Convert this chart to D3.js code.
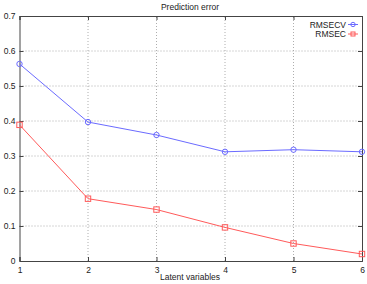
<!DOCTYPE html>
<html>
<head>
<meta charset="utf-8">
<script src="https://cdn.jsdelivr.net/npm/d3@7"></script>
<style>
  body { margin: 0; background: #fff; }
  svg { display: block; font-family: "Liberation Sans", Arial, sans-serif; }
  .grid line { stroke: #999; stroke-dasharray: 1,2; stroke-width: 0.8; }
</style>
</head>
<body>
<div id="chart"></div>
<script>
const latent = [1, 2, 3, 4, 5, 6];
const rmsecv = [0.563, 0.397, 0.36, 0.312, 0.318, 0.312];
const rmsec = [0.389, 0.178, 0.147, 0.096, 0.05, 0.02];
const yTicks = [0, 0.1, 0.2, 0.3, 0.4, 0.5, 0.6, 0.7];

const width = 367, height = 284;
const margin = { top: 16, right: 5, bottom: 23, left: 19.5 };

const svg = d3.select("#chart").append("svg")
    .attr("width", width)
    .attr("height", height);

const x = d3.scaleLinear().domain([1, 6]).range([margin.left, width - margin.right]);
const y = d3.scaleLinear().domain([0, 0.7]).range([height - margin.bottom, margin.top]);

// grid
const grid = svg.append("g").attr("class", "grid");
grid.selectAll(".gy").data(yTicks.slice(1, -1)).enter().append("line")
    .attr("x1", x(1)).attr("x2", x(6))
    .attr("y1", d => y(d)).attr("y2", d => y(d));
grid.selectAll(".gx").data(latent.slice(1, -1)).enter().append("line")
    .attr("x1", d => x(d)).attr("x2", d => x(d))
    .attr("y1", y(0)).attr("y2", y(0.7));

// axes with inward ticks on all four sides
const tk = 4;
svg.append("g").attr("transform", `translate(${x(1)},0)`)
    .call(d3.axisLeft(y).tickValues(yTicks).tickSize(-tk).tickPadding(4).tickFormat(d3.format("")));
svg.append("g").attr("transform", `translate(${x(6)},0)`)
    .call(d3.axisRight(y).tickValues(yTicks).tickSize(-tk).tickFormat(""));
svg.append("g").attr("transform", `translate(0,${y(0)})`)
    .call(d3.axisBottom(x).tickValues(latent).tickSize(-tk).tickPadding(6).tickFormat(d3.format("d")));
svg.append("g").attr("transform", `translate(0,${y(0.7)})`)
    .call(d3.axisTop(x).tickValues(latent).tickSize(-tk).tickFormat(""));

svg.selectAll(".domain").attr("stroke", "#444");
svg.selectAll(".tick line").attr("stroke", "#444");
svg.selectAll(".tick text").attr("font-size", 8.5).attr("fill", "#222")
    .attr("font-family", "Liberation Sans, Arial, sans-serif");

// lines
const line = d3.line().x((d, i) => x(latent[i])).y(d => y(d));
const blue = "#6b6bff", red = "#ff5a5a";

svg.append("path").datum(rmsecv).attr("d", line)
    .attr("fill", "none").attr("stroke", blue).attr("stroke-width", 1);
svg.selectAll(".cv").data(rmsecv).enter().append("circle")
    .attr("cx", (d, i) => x(latent[i])).attr("cy", d => y(d)).attr("r", 2.7)
    .attr("fill", "none").attr("stroke", blue);

svg.append("path").datum(rmsec).attr("d", line)
    .attr("fill", "none").attr("stroke", red).attr("stroke-width", 1);
svg.selectAll(".c").data(rmsec).enter().append("rect")
    .attr("x", (d, i) => x(latent[i]) - 2.7).attr("y", d => y(d) - 2.7)
    .attr("width", 5.4).attr("height", 5.4)
    .attr("fill", "none").attr("stroke", red);

// legend
const legend = [
  { name: "RMSECV", color: blue, shape: "circle" },
  { name: "RMSEC", color: red, shape: "rect" }
];
legend.forEach((l, i) => {
  const ly = 24.5 + i * 9.5;
  svg.append("text").attr("x", 346).attr("y", ly + 3).attr("text-anchor", "end")
      .attr("font-size", 8.5).attr("fill", "#222").text(l.name);
  svg.append("line").attr("x1", 348).attr("x2", 358).attr("y1", ly).attr("y2", ly)
      .attr("stroke", l.color);
  if (l.shape === "circle") {
    svg.append("circle").attr("cx", 353).attr("cy", ly).attr("r", 2.2)
        .attr("fill", "none").attr("stroke", l.color);
  } else {
    svg.append("rect").attr("x", 351).attr("y", ly - 2).attr("width", 4).attr("height", 4)
        .attr("fill", "none").attr("stroke", l.color);
  }
});

// title and axis label
svg.append("text").attr("x", 190).attr("y", 10).attr("text-anchor", "middle")
    .attr("font-size", 8.5).attr("fill", "#222").text("Prediction error");
svg.append("text").attr("x", 190).attr("y", 280).attr("text-anchor", "middle")
    .attr("font-size", 8.5).attr("fill", "#222").text("Latent variables");
</script>
</body>
</html>
